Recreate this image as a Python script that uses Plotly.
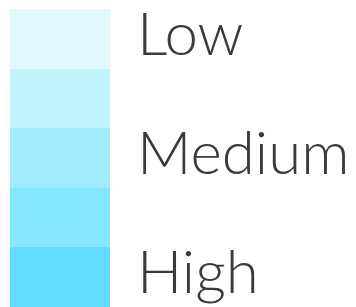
import plotly.graph_objects as go

# Data
levels = [1, 2, 3, 4, 5]
band_colors = ["#E0F9FF", "#C1F3FF", "#A0EBFF", "#84E6FF", "#62DCFF"]
label_levels = [1, 3, 5]
labels = ["Low", "Medium", "High"]

n = len(levels)
colorscale = []
for i, c in enumerate(band_colors):
    colorscale.append([i / n, c])
    colorscale.append([(i + 1) / n, c])

fig = go.Figure(
    go.Heatmap(
        x=[0],
        y=levels,
        z=[[v] for v in levels],
        zmin=0.5,
        zmax=n + 0.5,
        colorscale=colorscale,
        showscale=False,
        hoverinfo="skip",
    )
)

for lv, txt in zip(label_levels, labels):
    fig.add_annotation(
        x=0.357, xref="paper", xanchor="left",
        y=lv, yref="y", yanchor="middle", yshift=7,
        text=txt, showarrow=False,
        font=dict(family="Lato", size=60, color="#3a3a3a", weight=300),
    )

# page body adds an 8px offset; layout compensates
fig.update_layout(
    width=356, height=307,
    margin=dict(l=0, r=0, t=0, b=0),
    paper_bgcolor="white", plot_bgcolor="white",
    xaxis=dict(domain=[2 / 356, 102 / 356], visible=False, range=[-0.5, 0.5]),
    yaxis=dict(domain=[8 / 307, 306 / 307], visible=False, range=[n + 0.5, 0.5]),
    showlegend=False,
)

fig.write_html("out.html")
